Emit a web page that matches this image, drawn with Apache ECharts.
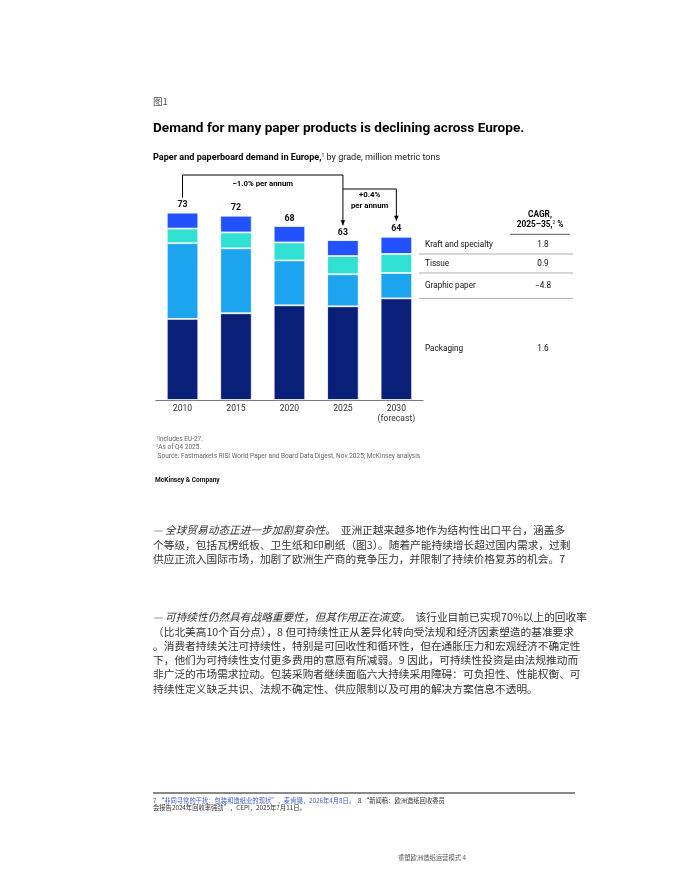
<!DOCTYPE html>
<html>
<head>
<meta charset="utf-8">
<script src="https://cdn.jsdelivr.net/npm/echarts/dist/echarts.min.js"></script>
<style>
  html, body { margin: 0; padding: 0; background: #fff; }
  #main { width: 680px; height: 880px; }
</style>
</head>
<body>
<div id="main"></div>
<script>
// data, million metric tons
var years = ['2010', '2015', '2020', '2025', '2030\n(forecast)'];
var totals = [73, 72, 68, 63, 64];
var packaging = [31.6, 33.8, 36.9, 36.5, 39.6];
var graphicPaper = [29.5, 25.3, 17.5, 12.5, 9.9];
var tissue = [5.7, 6.2, 7.0, 7.1, 7.4];
var kraft = [6.2, 6.5, 6.4, 6.2, 6.7];
var gradeNames = ['Packaging', 'Graphic paper', 'Tissue', 'Kraft and specialty'];
var cagr = ['1.6', '\u22124.8', '0.9', '1.8'];
var trendLeft = '\u22121.0% per annum';
var trendRight = ['+0.4%', 'per annum'];

var colors = ['#0a1f78', '#1ca4ee', '#2fe0d3', '#2251ff'];
var sans = 'Roboto, "Liberation Sans", sans-serif';
var cjk = '"Noto Sans CJK SC", sans-serif';
var bodySize = '10.7px ';

var para1 = [
  '\u4e2a\u7b49\u7ea7\uff0c\u5305\u62ec\u74e6\u695e\u7eb8\u677f\u3001\u536b\u751f\u7eb8\u548c\u5370\u5237\u7eb8\uff08\u56fe3\uff09\u3002\u968f\u7740\u4ea7\u80fd\u6301\u7eed\u589e\u957f\u8d85\u8fc7\u56fd\u5185\u9700\u6c42\uff0c\u8fc7\u5269',
  '\u4f9b\u5e94\u6b63\u6d41\u5165\u56fd\u9645\u5e02\u573a\uff0c\u52a0\u5267\u4e86\u6b27\u6d32\u751f\u4ea7\u5546\u7684\u7ade\u4e89\u538b\u529b\uff0c\u5e76\u9650\u5236\u4e86\u6301\u7eed\u4ef7\u683c\u590d\u82cf\u7684\u673a\u4f1a\u30027'
];
var para2 = [
  '\uff08\u6bd4\u5317\u7f8e\u9ad810\u4e2a\u767e\u5206\u70b9\uff09\uff0c8 \u4f46\u53ef\u6301\u7eed\u6027\u6b63\u4ece\u5dee\u5f02\u5316\u8f6c\u5411\u53d7\u6cd5\u89c4\u548c\u7ecf\u6d4e\u56e0\u7d20\u5851\u9020\u7684\u57fa\u51c6\u8981\u6c42',
  '\u3002\u6d88\u8d39\u8005\u6301\u7eed\u5173\u6ce8\u53ef\u6301\u7eed\u6027\uff0c\u7279\u522b\u662f\u53ef\u56de\u6536\u6027\u548c\u5faa\u73af\u6027\uff0c\u4f46\u5728\u901a\u80c0\u538b\u529b\u548c\u5b8f\u89c2\u7ecf\u6d4e\u4e0d\u786e\u5b9a\u6027',
  '\u4e0b\uff0c\u4ed6\u4eec\u4e3a\u53ef\u6301\u7eed\u6027\u652f\u4ed8\u66f4\u591a\u8d39\u7528\u7684\u610f\u613f\u6709\u6240\u51cf\u5f31\u30029 \u56e0\u6b64\uff0c\u53ef\u6301\u7eed\u6027\u6295\u8d44\u662f\u7531\u6cd5\u89c4\u63a8\u52a8\u800c',
  '\u975e\u5e7f\u6cdb\u7684\u5e02\u573a\u9700\u6c42\u62c9\u52a8\u3002\u5305\u88c5\u91c7\u8d2d\u8005\u7ee7\u7eed\u9762\u4e34\u516d\u5927\u6301\u7eed\u91c7\u7528\u969c\u788d\uff1a\u53ef\u8d1f\u62c5\u6027\u3001\u6027\u80fd\u6743\u8861\u3001\u53ef',
  '\u6301\u7eed\u6027\u5b9a\u4e49\u7f3a\u4e4f\u5171\u8bc6\u3001\u6cd5\u89c4\u4e0d\u786e\u5b9a\u6027\u3001\u4f9b\u5e94\u9650\u5236\u4ee5\u53ca\u53ef\u7528\u7684\u89e3\u51b3\u65b9\u6848\u4fe1\u606f\u4e0d\u900f\u660e\u3002'
];

function txt(x, y, text, style) {
  var s = { x: x, y: y, text: text, fill: '#222', font: '10px ' + sans, textVerticalAlign: 'middle' };
  for (var k in style) s[k] = style[k];
  return { type: 'text', style: s, silent: true };
}

var pageText = [
  txt(153, 101, '\u56fe1', { font: '9.5px ' + cjk, fill: '#555' }),
  txt(153, 129, 'Demand for many paper products is declining across Europe.', { font: 'bold 13.6px ' + sans, fill: '#000' }),
  {
    type: 'text', silent: true,
    style: {
      x: 153, y: 158, textVerticalAlign: 'middle',
      text: '{b|Paper and paperboard demand in Europe,}{s|1}{n| by grade, million metric tons}',
      rich: {
        b: { font: 'bold 9.1px ' + sans, fill: '#000' },
        s: { font: '5px ' + sans, fill: '#000', padding: [0, 0, 5, 0] },
        n: { font: '9.1px ' + sans, fill: '#222' }
      }
    }
  },
  txt(540, 215, 'CAGR,', { font: 'bold 8.3px ' + sans, fill: '#000', textAlign: 'center' }),
  {
    type: 'text', silent: true,
    style: {
      x: 540, y: 225, textAlign: 'center', textVerticalAlign: 'middle',
      text: '{b|2025\u201335,}{s|2}{b| %}',
      rich: {
        b: { font: 'bold 8.3px ' + sans, fill: '#000' },
        s: { font: '4.5px ' + sans, fill: '#000', padding: [0, 0, 4, 0] }
      }
    }
  },
  { type: 'line', silent: true, shape: { x1: 510, y1: 234.3, x2: 570, y2: 234.3 }, style: { stroke: '#333', lineWidth: 0.8 } },
  {
    type: 'text', silent: true,
    style: {
      x: 156, y: 439, textVerticalAlign: 'middle',
      text: '{s|1}{t|Includes EU-27.}',
      rich: { s: { font: '4px ' + sans, fill: '#666', padding: [0, 0, 3, 0] }, t: { font: '6.5px ' + sans, fill: '#666' } }
    }
  },
  {
    type: 'text', silent: true,
    style: {
      x: 156, y: 447.5, textVerticalAlign: 'middle',
      text: '{s|2}{t|As of Q4 2025.}',
      rich: { s: { font: '4px ' + sans, fill: '#666', padding: [0, 0, 3, 0] }, t: { font: '6.5px ' + sans, fill: '#666' } }
    }
  },
  txt(156, 456, ' Source: Fastmarkets RISI World Paper and Board Data Digest, Nov 2025; McKinsey analysis', { font: '6.5px ' + sans, fill: '#666' }),
  txt(155, 480.5, 'McKinsey & Company', { font: 'bold 6.6px ' + sans, fill: '#111' }),
  {
    type: 'text', silent: true,
    style: {
      x: 153, y: 530, textVerticalAlign: 'middle',
      text: '{i|\u2014 \u5168\u7403\u8d38\u6613\u52a8\u6001\u6b63\u8fdb\u4e00\u6b65\u52a0\u5267\u590d\u6742\u6027\u3002}{n|  \u4e9a\u6d32\u6b63\u8d8a\u6765\u8d8a\u591a\u5730\u4f5c\u4e3a\u7ed3\u6784\u6027\u51fa\u53e3\u5e73\u53f0\uff0c\u6db5\u76d6\u591a}',
      rich: {
        i: { font: 'italic ' + bodySize + cjk, fill: '#333' },
        n: { font: bodySize + cjk, fill: '#333' }
      }
    }
  },
  {
    type: 'text', silent: true,
    style: {
      x: 153, y: 617, textVerticalAlign: 'middle',
      text: '{i|\u2014 \u53ef\u6301\u7eed\u6027\u4ecd\u7136\u5177\u6709\u6218\u7565\u91cd\u8981\u6027\uff0c\u4f46\u5176\u4f5c\u7528\u6b63\u5728\u6f14\u53d8\u3002}{n|  \u8be5\u884c\u4e1a\u76ee\u524d\u5df2\u5b9e\u73b070%\u4ee5\u4e0a\u7684\u56de\u6536\u7387}',
      rich: {
        i: { font: 'italic ' + bodySize + cjk, fill: '#333' },
        n: { font: bodySize + cjk, fill: '#333' }
      }
    }
  },
  { type: 'line', silent: true, shape: { x1: 153, y1: 793, x2: 575, y2: 793 }, style: { stroke: '#111', lineWidth: 1 } },
  {
    type: 'text', silent: true,
    style: {
      x: 153, y: 800.5, textVerticalAlign: 'middle',
      text: '{b|7 \u201c\u975e\u540c\u5bfb\u5e38\u7684\u5e72\u6270\uff1a\u5305\u88c5\u548c\u9020\u7eb8\u4e1a\u7684\u73b0\u72b6\u201d\uff0c\u9ea6\u80af\u9521\uff0c2026\u5e744\u67088\u65e5\u3002}{k|  8 \u201c\u65b0\u95fb\u7a3f\uff1a\u6b27\u6d32\u9020\u7eb8\u56de\u6536\u59d4\u5458}',
      rich: {
        b: { font: '6.3px ' + cjk, fill: '#3a5bd0' },
        k: { font: '6.3px ' + cjk, fill: '#333' }
      }
    }
  },
  txt(153, 808, '\u4f1a\u62a5\u544a2024\u5e74\u56de\u6536\u7387\u5f3a\u52b2\u201d\uff0cCEPI\uff0c2025\u5e747\u670811\u65e5\u3002', { font: '6.3px ' + cjk, fill: '#333' }),
  txt(398, 858, '\u91cd\u5851\u6b27\u6d32\u9020\u7eb8\u8fd0\u8425\u6a21\u5f0f 4', { font: '6.3px ' + cjk, fill: '#555' })
];
para1.forEach(function (line, i) {
  pageText.push(txt(153, 544.5 + i * 14.3, line, { font: bodySize + cjk, fill: '#333' }));
});
para2.forEach(function (line, i) {
  pageText.push(txt(153, 631.5 + i * 14.3, line, { font: bodySize + cjk, fill: '#333' }));
});

function barSeries(name, data, color, withLabel) {
  var s = {
    name: name,
    type: 'bar',
    stack: 'demand',
    data: data,
    barWidth: 31.5,
    itemStyle: { color: color, borderColor: '#fff', borderWidth: 0.8 },
    emphasis: { disabled: true }
  };
  if (withLabel) {
    s.label = {
      show: true,
      position: 'top',
      distance: 3,
      color: '#111',
      fontFamily: sans,
      fontWeight: 'bold',
      fontSize: 8.8,
      formatter: function (p) { return totals[p.dataIndex]; }
    };
  }
  return s;
}

var chart = echarts.init(document.getElementById('main'), null, { renderer: 'canvas' });
chart.setOption({
  animation: false,
  backgroundColor: '#fff',
  grid: { left: 155.8, top: 194.7, width: 267.3, height: 205.3 },
  xAxis: {
    type: 'category',
    data: years,
    axisTick: { show: false },
    axisLine: { lineStyle: { color: '#777', width: 1 } },
    axisLabel: { color: '#333', fontFamily: sans, fontSize: 8.6, margin: 4, lineHeight: 10 }
  },
  yAxis: { type: 'value', min: 0, max: 80, show: false, splitLine: { show: false } },
  series: [
    barSeries(gradeNames[0], packaging, colors[0], false),
    barSeries(gradeNames[1], graphicPaper, colors[1], false),
    barSeries(gradeNames[2], tissue, colors[2], false),
    barSeries(gradeNames[3], kraft, colors[3], true)
  ],
  graphic: pageText
});

// annotations and the grade table, placed from the chart's own scales
function px(i) { return chart.convertToPixel({ xAxisIndex: 0 }, i); }
function py(v) { return chart.convertToPixel({ yAxisIndex: 0 }, v); }
function arrowHead(x, y) {
  return { type: 'polygon', silent: true, shape: { points: [[x - 2.3, y - 5], [x + 2.3, y - 5], [x, y]] }, style: { fill: '#000' } };
}

var extra = [];
var topY = py(80) - 19.7;
var x0 = px(0), x3 = px(3), x4 = px(4);
extra.push({ type: 'polyline', silent: true, shape: { points: [[x0, py(totals[0]) - 15], [x0, topY], [x3, topY], [x3, py(totals[3]) - 13]] }, style: { stroke: '#000', lineWidth: 1, fill: null } });
extra.push(arrowHead(x3, py(totals[3]) - 13));
var midY = topY + 14;
extra.push({ type: 'polyline', silent: true, shape: { points: [[x3, midY], [x4, midY], [x4, py(totals[4]) - 15]] }, style: { stroke: '#000', lineWidth: 1, fill: null } });
extra.push(arrowHead(x4, py(totals[4]) - 15));
extra.push(txt((x0 + x3) / 2, topY + 9, trendLeft, { font: 'bold 7.8px ' + sans, fill: '#000', textAlign: 'center' }));
extra.push(txt((x3 + x4) / 2, midY + 6.5, trendRight[0], { font: 'bold 7.8px ' + sans, fill: '#000', textAlign: 'center' }));
extra.push(txt((x3 + x4) / 2, midY + 17, trendRight[1], { font: 'bold 7.8px ' + sans, fill: '#000', textAlign: 'center' }));

var last = years.length - 1;
var segs = [packaging[last], graphicPaper[last], tissue[last], kraft[last]];
var cum = 0;
for (var g = 0; g < segs.length; g++) {
  var lo = cum, hi = cum + segs[g];
  var yc = (py(lo) + py(hi)) / 2;
  extra.push(txt(425, yc, gradeNames[g], { font: '8.2px ' + sans, fill: '#111' }));
  extra.push(txt(543, yc, cagr[g], { font: '8.2px ' + sans, fill: '#111', textAlign: 'center' }));
  if (g < segs.length - 1) {
    extra.push({ type: 'line', silent: true, shape: { x1: 419, y1: py(hi), x2: 573, y2: py(hi) }, style: { stroke: '#999', lineWidth: 0.8 } });
  }
  cum = hi;
}
chart.setOption({ graphic: pageText.concat(extra) });
</script>
</body>
</html>
